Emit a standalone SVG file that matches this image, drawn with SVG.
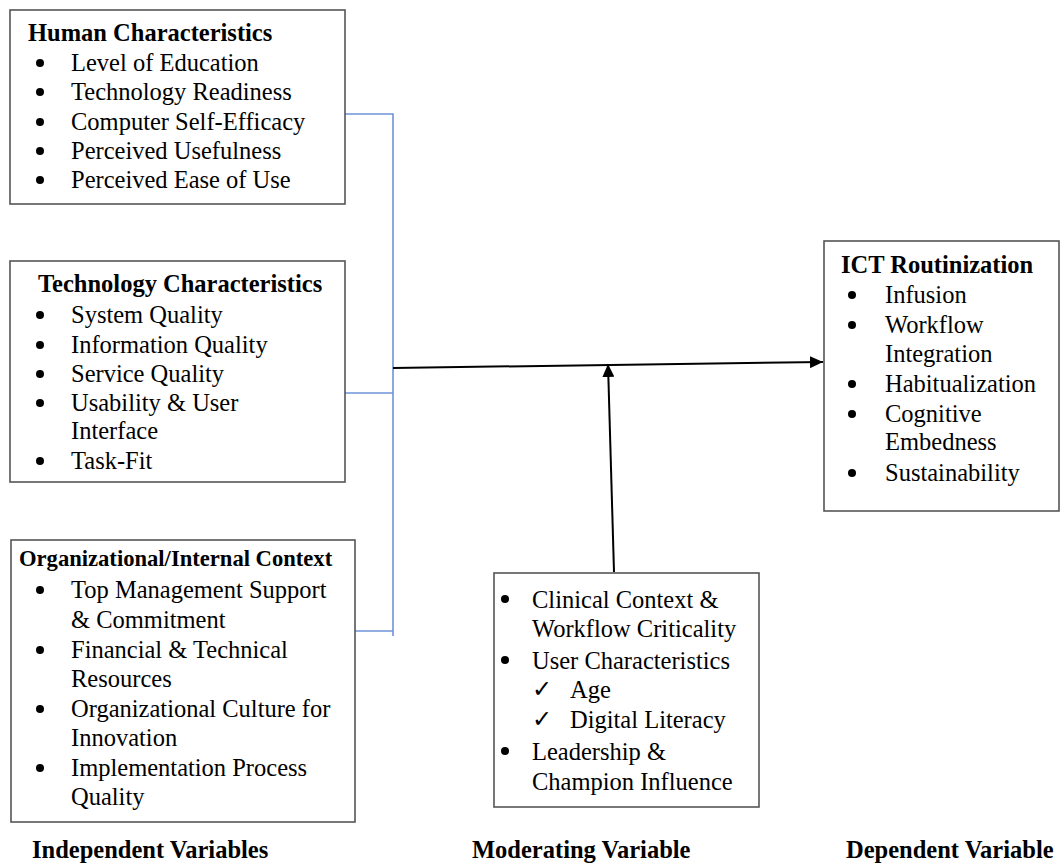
<svg xmlns="http://www.w3.org/2000/svg" width="1061" height="866" viewBox="0 0 1061 866">
<defs>
<marker id="arr" markerWidth="13" markerHeight="12" refX="13" refY="6" orient="auto" markerUnits="userSpaceOnUse">
<path d="M0,0 L13,6 L0,12 Z" fill="#000"/>
</marker>
<style>
.box{fill:#fff;stroke:#555;stroke-width:1.6}
.t{font-family:"Liberation Serif","Times New Roman",serif;font-size:24.5px;fill:#000}
.h{font-family:"Liberation Serif","Times New Roman",serif;font-size:24.5px;font-weight:bold;fill:#000}
.b{fill:#000}
.ck{font-family:"DejaVu Sans",sans-serif;font-size:24px;fill:#000}
.blue{fill:none;stroke:#6f93d8;stroke-width:1.6}
.blk{fill:none;stroke:#000;stroke-width:2}
</style>
</defs>
<rect width="1061" height="866" fill="#fff"/>

<g id="connectors">
<path class="blue" d="M345,114 H393 V636"/>
<path class="blue" d="M345,393 H393"/>
<path class="blue" d="M355,631 H393"/>
<line class="blk" x1="393" y1="368" x2="823" y2="362" marker-end="url(#arr)"/>
<line class="blk" x1="614" y1="572" x2="608" y2="364" marker-end="url(#arr)"/>
</g>

<g id="human">
<rect class="box" x="10" y="10" width="335" height="194"/>
<text class="h" x="28" y="41">Human Characteristics</text>
<g class="b">
<circle cx="40" cy="63" r="4"/><circle cx="40" cy="92" r="4"/><circle cx="40" cy="122" r="4"/><circle cx="40" cy="151" r="4"/><circle cx="40" cy="180" r="4"/>
</g>
<g class="t">
<text x="71" y="71">Level of Education</text>
<text x="71" y="100">Technology Readiness</text>
<text x="71" y="130">Computer Self-Efficacy</text>
<text x="71" y="159">Perceived Usefulness</text>
<text x="71" y="188">Perceived Ease of Use</text>
</g>
</g>

<g id="technology">
<rect class="box" x="10" y="261" width="335" height="221"/>
<text class="h" x="38" y="292">Technology Characteristics</text>
<g class="b">
<circle cx="40" cy="315" r="4"/><circle cx="40" cy="345" r="4"/><circle cx="40" cy="374" r="4"/><circle cx="40" cy="403" r="4"/><circle cx="40" cy="461" r="4"/>
</g>
<g class="t">
<text x="71" y="323">System Quality</text>
<text x="71" y="353">Information Quality</text>
<text x="71" y="382">Service Quality</text>
<text x="71" y="411">Usability &amp; User</text>
<text x="71" y="439">Interface</text>
<text x="71" y="469">Task-Fit</text>
</g>
</g>

<g id="organizational">
<rect class="box" x="11" y="540" width="344" height="282"/>
<text class="h" x="19" y="566" style="font-size:22.6px">Organizational/Internal Context</text>
<g class="b">
<circle cx="40" cy="590" r="4"/><circle cx="40" cy="650" r="4"/><circle cx="40" cy="709" r="4"/><circle cx="40" cy="768" r="4"/>
</g>
<g class="t">
<text x="71" y="598">Top Management Support</text>
<text x="71" y="628">&amp; Commitment</text>
<text x="71" y="658">Financial &amp; Technical</text>
<text x="71" y="687">Resources</text>
<text x="71" y="717">Organizational Culture for</text>
<text x="71" y="746">Innovation</text>
<text x="71" y="776">Implementation Process</text>
<text x="71" y="805">Quality</text>
</g>
</g>

<g id="moderating">
<rect class="box" x="494" y="573" width="265" height="234"/>
<g class="b">
<circle cx="505" cy="599" r="4"/><circle cx="505" cy="660" r="4"/><circle cx="505" cy="751" r="4"/>
</g>
<g class="t">
<text x="532" y="608">Clinical Context &amp;</text>
<text x="532" y="637">Workflow Criticality</text>
<text x="532" y="669">User Characteristics</text>
<text x="570" y="698">Age</text>
<text x="570" y="728">Digital Literacy</text>
<text x="532" y="760">Leadership &amp;</text>
<text x="532" y="790">Champion Influence</text>
</g>
<text class="ck" x="532" y="697">✓</text>
<text class="ck" x="532" y="727">✓</text>
</g>

<g id="ict">
<rect class="box" x="824" y="241" width="235" height="270"/>
<text class="h" x="841" y="273">ICT Routinization</text>
<g class="b">
<circle cx="852" cy="295" r="4"/><circle cx="852" cy="325" r="4"/><circle cx="852" cy="384" r="4"/><circle cx="852" cy="414" r="4"/><circle cx="852" cy="473" r="4"/>
</g>
<g class="t">
<text x="885" y="303">Infusion</text>
<text x="885" y="333">Workflow</text>
<text x="885" y="362">Integration</text>
<text x="885" y="392">Habitualization</text>
<text x="885" y="422">Cognitive</text>
<text x="885" y="450">Embedness</text>
<text x="885" y="481">Sustainability</text>
</g>
</g>

<g id="labels">
<text class="h" x="32" y="858">Independent Variables</text>
<text class="h" x="472" y="858">Moderating Variable</text>
<text class="h" x="846" y="858">Dependent Variable</text>
</g>
</svg>
